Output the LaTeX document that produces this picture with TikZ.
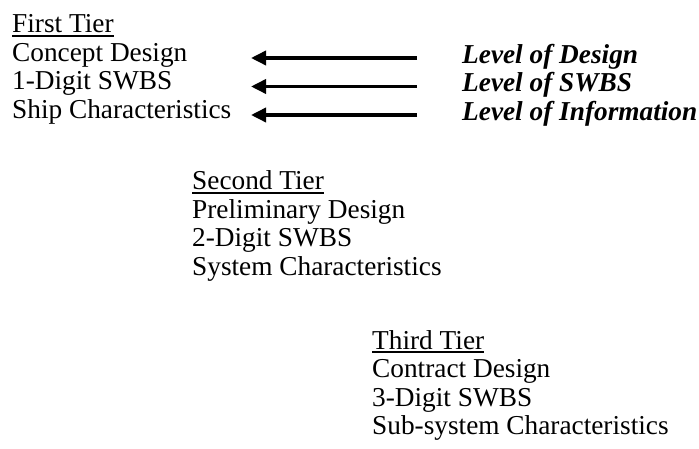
\documentclass[tikz,border=0pt]{standalone}
\usepackage{fontspec}
\setmainfont{Liberation Serif}
\usetikzlibrary{arrows.meta}

\tikzset{
  tier/.style={anchor=base west, inner sep=0pt, font=\fontsize{27.3}{28.5}\selectfont},
  level/.style={tier, font=\fontsize{27.3}{28.5}\selectfont\bfseries\itshape},
  pointer/.style={line width=3.5pt, -{Triangle[length=15pt,width=14pt]}},
  underrule/.style={line width=1.6pt}
}

\begin{document}
\begin{tikzpicture}[x=1pt,y=-1pt]
  \useasboundingbox (0,0) rectangle (699,449);

  % First tier
  \node[tier] (tierA) at (12,33) {First Tier};
  \node[tier] (designA) at (12,61.5) {Concept Design};
  \node[tier] (swbsA) at (12,90) {1-Digit SWBS};
  \node[tier] (charA) at (12,118.5) {Ship Characteristics};
  \draw[underrule] ([yshift=-3pt]tierA.base west) -- ([yshift=-3pt]tierA.base east);

  % Second tier
  \node[tier] (tierB) at (192,190) {Second Tier};
  \node[tier] (designB) at (192,218.5) {Preliminary Design};
  \node[tier] (swbsB) at (192,247) {2-Digit SWBS};
  \node[tier] (charB) at (192,275.5) {System Characteristics};
  \draw[underrule] ([yshift=-3pt]tierB.base west) -- ([yshift=-3pt]tierB.base east);

  % Third tier
  \node[tier] (tierC) at (372,349) {Third Tier};
  \node[tier] (designC) at (372,377.5) {Contract Design};
  \node[tier] (swbsC) at (372,406) {3-Digit SWBS};
  \node[tier] (charC) at (372,434.5) {Sub-system Characteristics};
  \draw[underrule] ([yshift=-3pt]tierC.base west) -- ([yshift=-3pt]tierC.base east);

  % Levels
  \node[level] (lvlDesign) at (462,63.5) {Level of Design};
  \node[level] (lvlSwbs) at (462,92) {Level of SWBS};
  \node[level] (lvlInfo) at (462,120.5) {Level of Information};

  % Arrows
  \coordinate (tailA) at (417,58);
  \coordinate (tipA) at (251,58);
  \coordinate (tailB) at (417,86.5);
  \coordinate (tipB) at (251,86.5);
  \coordinate (tailC) at (417,115);
  \coordinate (tipC) at (251,115);
  \draw[pointer] (tailA) -- (tipA);
  \draw[pointer] (tailB) -- (tipB);
  \draw[pointer] (tailC) -- (tipC);
\end{tikzpicture}
\end{document}
